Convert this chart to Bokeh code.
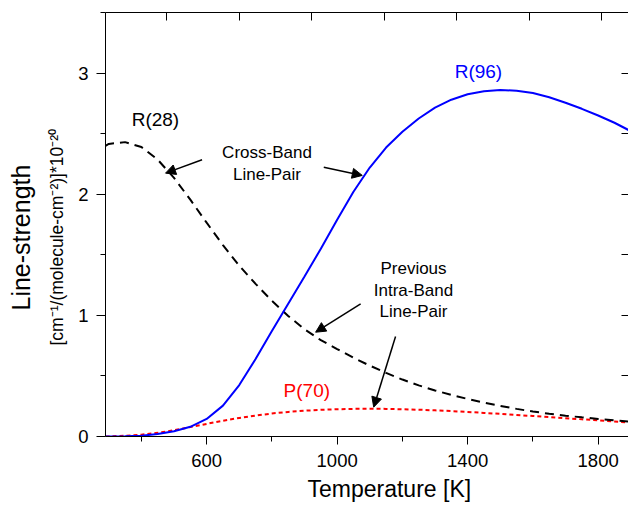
from bokeh.plotting import figure
from bokeh.models import Range1d, LinearAxis, FixedTicker, Label, Arrow, NormalHead, Title
from bokeh.embed import file_html
from bokeh.resources import INLINE

# ---------------- data ----------------
temperature = [290, 300, 350, 400, 450, 500, 550, 600, 650, 700, 750, 800, 850,
               900, 950, 1000, 1050, 1100, 1150, 1200, 1250, 1300, 1350, 1400,
               1450, 1500, 1550, 1600, 1650, 1700, 1750, 1800, 1850, 1893]
r96 = [0.000, 0.000, 0.002, 0.007, 0.020, 0.043, 0.080, 0.145, 0.255, 0.425,
       0.640, 0.870, 1.095, 1.320, 1.550, 1.790, 2.020, 2.220, 2.385, 2.515,
       2.625, 2.715, 2.780, 2.825, 2.850, 2.860, 2.855, 2.835, 2.800, 2.755,
       2.705, 2.650, 2.590, 2.530]
r28 = [2.400, 2.415, 2.430, 2.390, 2.285, 2.135, 1.955, 1.765, 1.580, 1.410,
       1.260, 1.120, 0.995, 0.885, 0.795, 0.722, 0.650, 0.585, 0.525, 0.470,
       0.422, 0.380, 0.343, 0.310, 0.280, 0.253, 0.228, 0.206, 0.188, 0.172,
       0.158, 0.145, 0.133, 0.123]
p70 = [0.000, 0.001, 0.006, 0.015, 0.030, 0.052, 0.078, 0.104, 0.130, 0.153,
       0.173, 0.190, 0.203, 0.213, 0.220, 0.225, 0.228, 0.229, 0.228, 0.225,
       0.221, 0.216, 0.210, 0.203, 0.195, 0.187, 0.178, 0.169, 0.160, 0.151,
       0.142, 0.133, 0.124, 0.116]

x_major_ticks = [600, 1000, 1400, 1800]
x_minor_ticks = [400, 800, 1200, 1600]
y_major_ticks = [0, 1, 2, 3]
y_minor_ticks = [0.5, 1.5, 2.5, 3.5]
right_ticks = [0, 0.5, 1, 1.5, 2, 2.5, 3, 3.5]
fahrenheit_ticks = [400, 800, 1200, 1600, 2000, 2400, 2800]  # top axis (deg F)
top_ticks = [(f - 32) * 5.0 / 9.0 + 273.15 for f in fahrenheit_ticks]

FONT = "Liberation Sans"

p = figure(width=628, height=509, output_backend="svg", toolbar_location=None,
           x_range=Range1d(290, 1893), y_range=Range1d(0, 3.5),
           min_border_left=105, min_border_right=0, min_border_top=12,
           min_border_bottom=73)
p.outline_line_color = None
p.xgrid.visible = False
p.ygrid.visible = False
p.background_fill_color = "white"
p.border_fill_color = "white"

# bottom axis
xa = p.xaxis[0]
xa.ticker = FixedTicker(ticks=x_major_ticks, minor_ticks=x_minor_ticks)
xa.major_tick_in = 0
xa.major_tick_out = 8
xa.minor_tick_in = 0
xa.minor_tick_out = 5
xa.major_label_text_font = FONT
xa.major_label_text_font_size = "18.5px"
xa.major_label_text_color = "black"
xa.major_label_standoff = 9
xa.axis_line_color = "black"

# left axis
ya = p.yaxis[0]
ya.ticker = FixedTicker(ticks=y_major_ticks, minor_ticks=y_minor_ticks)
ya.major_tick_in = 0
ya.major_tick_out = 9
ya.minor_tick_in = 0
ya.minor_tick_out = 5
ya.major_label_text_font = FONT
ya.major_label_text_font_size = "18.5px"
ya.major_label_text_color = "black"
ya.major_label_standoff = 8
ya.axis_line_color = "black"

# top axis (tick marks only, inward)
ta = LinearAxis(ticker=FixedTicker(ticks=[], minor_ticks=top_ticks),
                major_tick_in=0, major_tick_out=0, minor_tick_in=8, minor_tick_out=0,
                axis_line_color="black")
p.add_layout(ta, "above")

# right axis (tick marks only, inward)
ra = LinearAxis(ticker=FixedTicker(ticks=[], minor_ticks=right_ticks),
                major_tick_in=0, major_tick_out=0, minor_tick_in=7, minor_tick_out=0,
                axis_line_color=None)
p.add_layout(ra, "right")

# curves
p.line(temperature, p70, line_color="#ff0000", line_width=2, line_dash="4 3")
p.line(temperature, r28, line_color="black", line_width=2, line_dash="9 6")
p.line(temperature, r96, line_color="#0000ff", line_width=2)

def lab(x, y, text, size, color="black"):
    p.add_layout(Label(x=x, y=y, text=text, text_font=FONT, text_font_size=size,
                       text_color=color, text_align="center",
                       text_baseline="middle"))

# curve labels
lab(443, 2.613, "R(28)", "19px")
lab(1433, 3.009, "R(96)", "19px", color="#0000ff")
lab(907, 0.380, "P(70)", "19px", color="#ff0000")

# annotation texts
lab(785, 2.342, "Cross-Band", "17px")
lab(785, 2.161, "Line-Pair", "17px")
lab(1234, 1.388, "Previous", "17px")
lab(1234, 1.209, "Intra-Band", "17px")
lab(1234, 1.030, "Line-Pair", "17px")

# arrows
arrows = [((586, 2.284), (474, 2.174)),
          ((959, 2.223), (1077, 2.155)),
          ((1072, 1.095), (934, 0.861)),
          ((1179, 0.826), (1112, 0.242))]
for (x0, y0), (x1, y1) in arrows:
    p.add_layout(Arrow(x_start=x0, y_start=y0, x_end=x1, y_end=y1,
                       line_color="black", line_width=1.5,
                       end=NormalHead(size=10, fill_color="black", line_color="black",
                                      line_width=1)))

# axis titles (as side titles so they can sit outside the frame)
p.add_layout(Title(text="Temperature [K]", align="left", offset=202, standoff=8,
                   text_font=FONT, text_font_size="23px", text_font_style="normal",
                   text_color="black", vertical_align="bottom"), "below")
p.add_layout(Title(text="[cm\u207b\u00b9/(molecule-cm\u207b\u00b2)]*10\u207b\u00b2\u2070",
                   align="left", offset=91, standoff=14, vertical_align="top",
                   text_font=FONT, text_font_size="17.5px", text_font_style="normal",
                   text_color="black"), "left")
p.add_layout(Title(text="Line-strength", align="left", offset=126, standoff=5,
                   vertical_align="top",
                   text_font=FONT, text_font_size="25px", text_font_style="normal",
                   text_color="black"), "left")

open("out.html", "w").write(file_html(p, INLINE))
